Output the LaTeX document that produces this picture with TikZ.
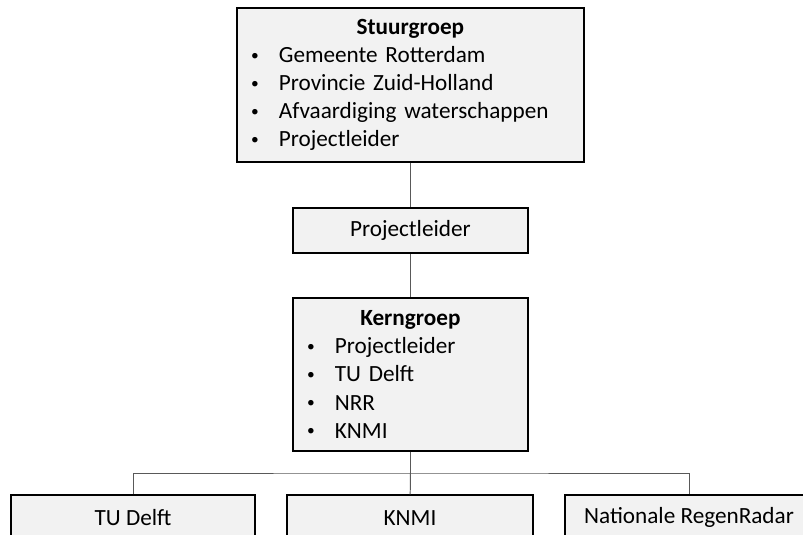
\documentclass[tikz,border=0pt]{standalone}
\usepackage{fontspec}
\setmainfont{Carlito}
\newcommand\opsom{\makebox[0.9cm]{\raisebox{0.06cm}{\fontsize{11}{11}\selectfont\textbullet}}\hspace{0.15cm}}
\newcommand\kop[1]{\makebox[\hsize]{\textbf{#1}}}
\tikzset{
  vak/.style={draw, fill=black!5, line width=1pt, inner sep=0pt,
              minimum height=1.125cm, font=\fontsize{16.5}{20}\selectfont},
  lijst/.style={vak, align=left},
  lijn/.style={draw=black!65, line width=0.7pt}
}
\begin{document}
\begin{tikzpicture}
\useasboundingbox (0,0) rectangle (20.075,-13.375);
\clip (0,0) rectangle (20.075,-13.375);
\path node (stuurgroep) at (10.26,-2.125) [lijst, text width=8.675cm, minimum height=3.85cm]
        {\kop{Stuurgroep}\\
         \opsom Gemeente Rotterdam\\
         \opsom Provincie Zuid-Holland\\
         \opsom Afvaardiging waterschappen\\
         \opsom Projectleider}
      node (leider) at (10.26,-5.76) [vak, minimum width=5.875cm] {Projectleider}
      node (kerngroep) at (10.26,-9.36) [lijst, text width=5.875cm, minimum height=3.825cm]
        {\kop{Kerngroep}\\
         \opsom Projectleider\\
         \opsom TU Delft\\
         \opsom NRR\\
         \opsom KNMI}
      node (tudelft) at (3.325,-12.94) [vak, minimum width=6.1cm] {TU Delft}
      node (knmi) at (10.25,-12.94) [vak, minimum width=6.15cm] {KNMI}
      node (nrr) at (17.225,-12.94) [vak, minimum width=6.2cm] {Nationale RegenRadar}
;
\coordinate (splits) at (10.26,-11.825);
\path[lijn] (stuurgroep) -- (leider);
\path[lijn] (leider) -- (kerngroep);
\path[lijn] (kerngroep) -- (splits);
\path[lijn] (tudelft) |- (splits) -| (nrr);
\path[lijn] (splits) -- (knmi);
\end{tikzpicture}
\end{document}
